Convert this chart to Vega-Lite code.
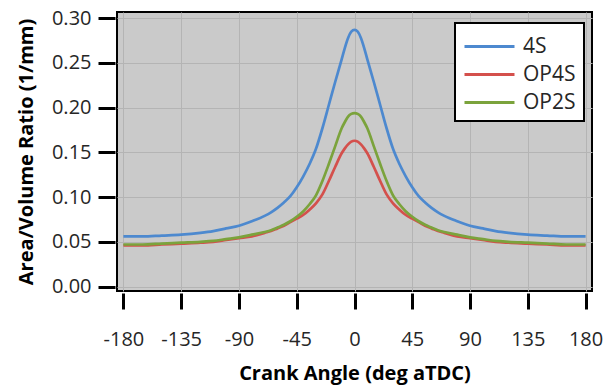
{
  "$schema": "https://vega.github.io/schema/vega-lite/v6.json",
  "width": 475,
  "height": 279,
  "autosize": {"type": "none"},
  "padding": {"left": 117, "top": 12, "right": 14, "bottom": 97},
  "background": "white",
  "config": {
    "font": "Open Sans",
    "view": {"fill": "#cacaca", "stroke": "#000000", "strokeWidth": 2},
    "axis": {
      "grid": true,
      "gridColor": "#b4b4b4",
      "gridWidth": 1,
      "domain": false,
      "tickColor": "#000000",
      "tickWidth": 3,
      "labelFont": "Open Sans",
      "labelFontSize": 20,
      "labelColor": "#262626",
      "titleFont": "Open Sans",
      "titleFontSize": 20,
      "titleFontWeight": "bold",
      "titleColor": "#000000"
    }
  },
  "data": {
    "values": [
      {"a": -180, "4S": 0.056, "OP4S": 0.046, "OP2S": 0.047},
      {"a": -165, "4S": 0.056, "OP4S": 0.046, "OP2S": 0.047},
      {"a": -150, "4S": 0.057, "OP4S": 0.047, "OP2S": 0.048},
      {"a": -135, "4S": 0.058, "OP4S": 0.048, "OP2S": 0.049},
      {"a": -120, "4S": 0.060, "OP4S": 0.049, "OP2S": 0.050},
      {"a": -110, "4S": 0.062, "OP4S": 0.050, "OP2S": 0.051},
      {"a": -100, "4S": 0.065, "OP4S": 0.052, "OP2S": 0.053},
      {"a": -90, "4S": 0.068, "OP4S": 0.054, "OP2S": 0.055},
      {"a": -80, "4S": 0.073, "OP4S": 0.056, "OP2S": 0.058},
      {"a": -70, "4S": 0.079, "OP4S": 0.060, "OP2S": 0.061},
      {"a": -65, "4S": 0.083, "OP4S": 0.062, "OP2S": 0.063},
      {"a": -60, "4S": 0.088, "OP4S": 0.065, "OP2S": 0.066},
      {"a": -55, "4S": 0.094, "OP4S": 0.068, "OP2S": 0.069},
      {"a": -50, "4S": 0.101, "OP4S": 0.072, "OP2S": 0.073},
      {"a": -45, "4S": 0.111, "OP4S": 0.076, "OP2S": 0.078},
      {"a": -40, "4S": 0.123, "OP4S": 0.080, "OP2S": 0.084},
      {"a": -35, "4S": 0.137, "OP4S": 0.086, "OP2S": 0.092},
      {"a": -30, "4S": 0.154, "OP4S": 0.093, "OP2S": 0.102},
      {"a": -25, "4S": 0.177, "OP4S": 0.103, "OP2S": 0.118},
      {"a": -20, "4S": 0.203, "OP4S": 0.118, "OP2S": 0.137},
      {"a": -15, "4S": 0.229, "OP4S": 0.134, "OP2S": 0.157},
      {"a": -10, "4S": 0.254, "OP4S": 0.149, "OP2S": 0.177},
      {"a": -7.5, "4S": 0.267, "OP4S": 0.1545, "OP2S": 0.184},
      {"a": -5, "4S": 0.278, "OP4S": 0.159, "OP2S": 0.190},
      {"a": -2.5, "4S": 0.285, "OP4S": 0.162, "OP2S": 0.193},
      {"a": 0, "4S": 0.287, "OP4S": 0.163, "OP2S": 0.194},
      {"a": 2.5, "4S": 0.285, "OP4S": 0.162, "OP2S": 0.193},
      {"a": 5, "4S": 0.278, "OP4S": 0.159, "OP2S": 0.190},
      {"a": 7.5, "4S": 0.267, "OP4S": 0.1545, "OP2S": 0.184},
      {"a": 10, "4S": 0.254, "OP4S": 0.149, "OP2S": 0.177},
      {"a": 15, "4S": 0.229, "OP4S": 0.134, "OP2S": 0.157},
      {"a": 20, "4S": 0.203, "OP4S": 0.118, "OP2S": 0.137},
      {"a": 25, "4S": 0.177, "OP4S": 0.103, "OP2S": 0.118},
      {"a": 30, "4S": 0.154, "OP4S": 0.093, "OP2S": 0.102},
      {"a": 35, "4S": 0.137, "OP4S": 0.086, "OP2S": 0.092},
      {"a": 40, "4S": 0.123, "OP4S": 0.080, "OP2S": 0.084},
      {"a": 45, "4S": 0.111, "OP4S": 0.076, "OP2S": 0.078},
      {"a": 50, "4S": 0.101, "OP4S": 0.072, "OP2S": 0.073},
      {"a": 55, "4S": 0.094, "OP4S": 0.068, "OP2S": 0.069},
      {"a": 60, "4S": 0.088, "OP4S": 0.065, "OP2S": 0.066},
      {"a": 65, "4S": 0.083, "OP4S": 0.062, "OP2S": 0.063},
      {"a": 70, "4S": 0.079, "OP4S": 0.060, "OP2S": 0.061},
      {"a": 80, "4S": 0.073, "OP4S": 0.056, "OP2S": 0.058},
      {"a": 90, "4S": 0.068, "OP4S": 0.054, "OP2S": 0.055},
      {"a": 100, "4S": 0.065, "OP4S": 0.052, "OP2S": 0.053},
      {"a": 110, "4S": 0.062, "OP4S": 0.050, "OP2S": 0.051},
      {"a": 120, "4S": 0.060, "OP4S": 0.049, "OP2S": 0.050},
      {"a": 135, "4S": 0.058, "OP4S": 0.048, "OP2S": 0.049},
      {"a": 150, "4S": 0.057, "OP4S": 0.047, "OP2S": 0.048},
      {"a": 165, "4S": 0.056, "OP4S": 0.046, "OP2S": 0.047},
      {"a": 180, "4S": 0.056, "OP4S": 0.046, "OP2S": 0.047}
    ]
  },
  "transform": [{"fold": ["4S", "OP4S", "OP2S"], "as": ["series", "v"]}],
  "mark": {"type": "line", "strokeWidth": 2.7, "interpolate": "monotone"},
  "encoding": {
    "x": {
      "field": "a",
      "type": "quantitative",
      "scale": {"domain": [-185, 185], "nice": false, "zero": false},
      "axis": {
        "values": [-180, -135, -90, -45, 0, 45, 90, 135, 180],
        "labelExpr": "datum.value < 0 ? '-' + abs(datum.value) : '' + datum.value",
        "title": "Crank Angle (deg aTDC)",
        "offset": 2,
        "tickSize": 16,
        "labelPadding": 20,
        "titlePadding": 14
      }
    },
    "y": {
      "field": "v",
      "type": "quantitative",
      "scale": {"domain": [-0.005, 0.307], "nice": false, "zero": false},
      "axis": {
        "values": [0, 0.05, 0.1, 0.15, 0.2, 0.25, 0.3],
        "format": ".2f",
        "title": "Area/Volume Ratio (1/mm)",
        "offset": 2,
        "tickSize": 17,
        "labelPadding": 7,
        "titlePadding": 15
      }
    },
    "color": {
      "field": "series",
      "type": "nominal",
      "scale": {"domain": ["4S", "OP4S", "OP2S"], "range": ["#4d89cf", "#d4504c", "#7ba33c"]},
      "legend": {
        "title": null,
        "orient": "none",
        "legendX": 338,
        "legendY": 11,
        "direction": "vertical",
        "fillColor": "#ffffff",
        "strokeColor": "#000000",
        "padding": 8,
        "rowPadding": 2,
        "symbolType": "M-1,0H2.571",
        "symbolSize": 784,
        "symbolStrokeWidth": 3,
        "labelFont": "Open Sans",
        "labelFontSize": 21,
        "labelColor": "#262626",
        "labelOffset": 29,
        "encode": {"legend": {"update": {"strokeWidth": {"value": 2}}}}
      }
    }
  }
}
